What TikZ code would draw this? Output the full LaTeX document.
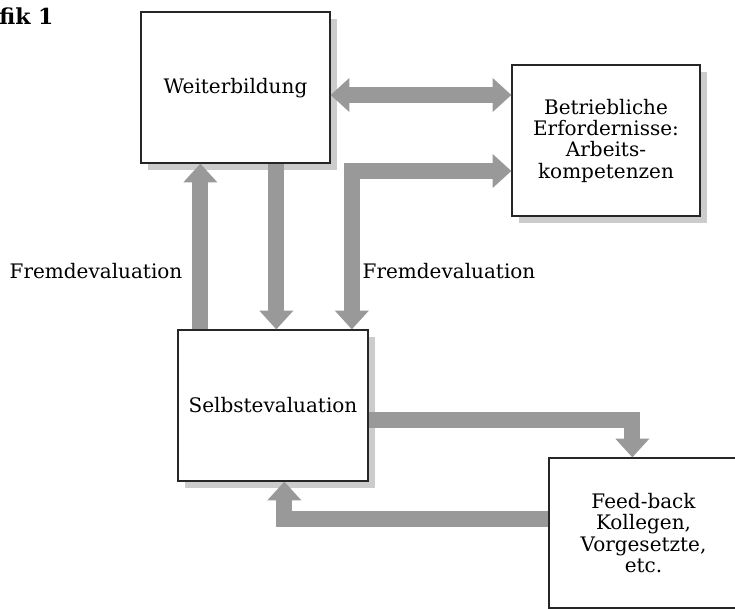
\documentclass[tikz,border=0pt]{standalone}
\usepackage{fontspec}
\setmainfont{DejaVu Serif}
\usetikzlibrary{arrows.meta,shadows,calc}
\tikzset{
  ft/.tip={Triangle[width=25.5pt,length=14pt,line width=0pt]},
}
\begin{document}
\begin{tikzpicture}[x=0.75pt,y=-0.75pt,
  every node/.style={font=\fontsize{15}{16}\selectfont},
  box/.style={draw=black!85,line width=1pt,fill=white,align=center,inner sep=0pt,
    drop shadow={shadow xshift=5.25pt,shadow yshift=-5.25pt,fill=black!20,opacity=1}},
  plainbox/.style={draw=black!85,line width=1pt,fill=white,align=center,inner sep=0pt},
  fat/.style={draw=black!40,line width=12pt,-ft},
  fatboth/.style={draw=black!40,line width=12pt,ft-ft}]
\useasboundingbox (0,0) rectangle (735,610);
% boxes
\node[box,minimum width=141.75pt,minimum height=113.25pt,text depth=3pt] (W) at (235.5,87.5) {Weiterbildung};
\node[box,minimum width=141pt,minimum height=113.25pt] (B) at (606,140.5) {Betriebliche\\Erfordernisse:\\Arbeits-\\kompetenzen};
\node[box,minimum width=142.5pt,minimum height=113.25pt] (S) at (273,405.5) {Selbstevaluation};
\node[plainbox,minimum width=141.75pt,minimum height=112.5pt] (F) at (643.5,533) {Feed-back\\Kollegen,\\Vorgesetzte,\\etc.};
% labels
\node (L1) at (96,271) {Fremdevaluation};
\node (L2) at (449,271) {Fremdevaluation};
\node[anchor=base west,inner sep=0pt,font=\fontsize{16.5}{18}\selectfont\bfseries] (T) at (-1,25) {fik 1};
% connectors
\coordinate (a1) at ($(W.east)+(0,7.5)$);
\draw[fatboth] (a1) -- (a1 -| B.west);
\coordinate (u1) at ($(S.north west)+(23,0)$);
\draw[fat] (u1) -- (u1 |- W.south);
\coordinate (d1) at ($(S.north west)+(99,0)$);
\draw[fat] (d1 |- W.south) -- (d1);
\coordinate (e1) at ($(S.north west)+(174.5,0)$);
\coordinate (e2) at ($(B.west)+(0,30.5)$);
\draw[fatboth] (e1) |- (e2);
\coordinate (s1) at ($(S.east)+(0,14.5)$);
\coordinate (s2) at ($(F.north west)+(84,0)$);
\draw[fat] (s1) -| (s2);
\coordinate (f1) at ($(F.west)+(0,-14)$);
\coordinate (f2) at ($(S.south west)+(107,0)$);
\draw[fat] (f1) -| (f2);
\end{tikzpicture}
\end{document}
